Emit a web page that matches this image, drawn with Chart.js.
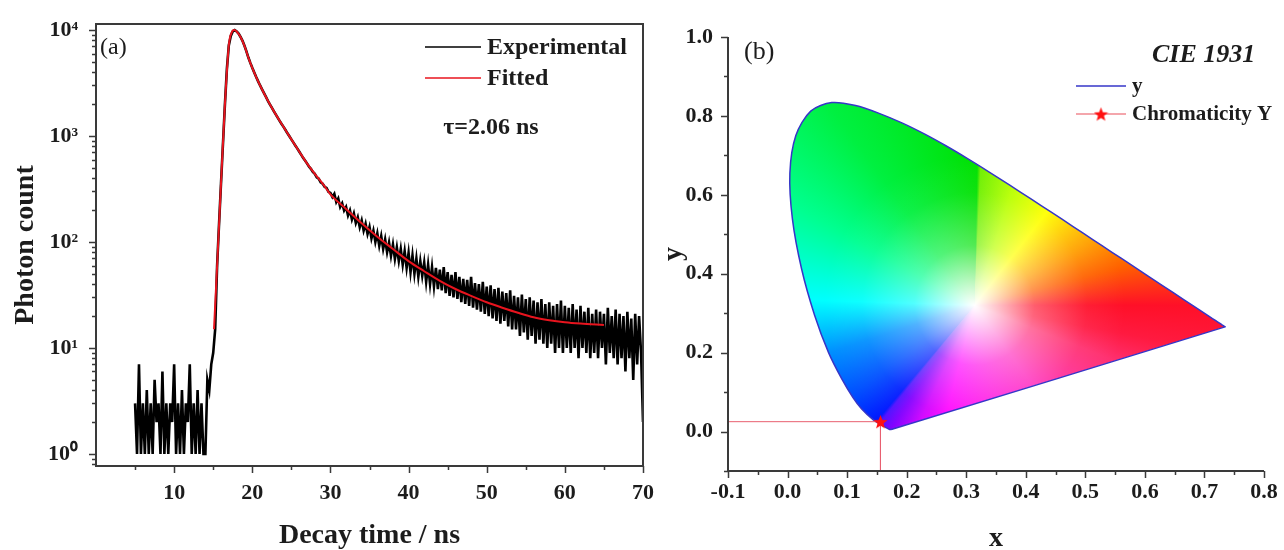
<!DOCTYPE html>
<html>
<head>
<meta charset="utf-8">
<script src="https://cdn.jsdelivr.net/npm/chart.js@4.4.0/dist/chart.umd.min.js"></script>
<style>
  html, body { margin: 0; padding: 0; background: #fff; }
  #wrap { position: relative; width: 1284px; height: 550px; overflow: hidden; }
  #decay { position: absolute; left: 0; top: 0; }
  #cie { position: absolute; left: 660px; top: 0; }
</style>
</head>
<body>
<div id="wrap">
  <canvas id="decay" width="660" height="550"></canvas>
  <canvas id="cie" width="624" height="550"></canvas>
</div>
<script>
// ---- panel (a): decay curve ----
// photon counts, one channel every 0.25 ns starting at 5 ns (one row per ns)
const expStart = 5;
const expStep = 0.25;
const expCounts = [
  3, 1, 7, 1,          // 5
  3, 1, 4, 1,          // 6
  3, 1, 5, 2,          // 7
  3, 1, 6, 1,          // 8
  3, 1, 3, 2,          // 9
  7, 1, 3, 1,          // 10
  4, 1, 3, 2,          // 11
  7, 1, 3, 1,          // 12
  4, 1, 3, 1,          // 13
  1, 5, 4, 7,          // 14
  9, 15, 60, 150,      // 15
  360, 850, 2000, 4300,       // 16
  7200, 8800, 9700, 10000,    // 17
  9700, 9250, 8600, 7900,     // 18
  7100, 6300, 5500, 4900,     // 19
  4400, 3980, 3600, 3280,     // 20
  3000, 2760, 2540, 2340,     // 21
  2150, 1990, 1850, 1720,     // 22
  1600, 1490, 1390, 1300,     // 23
  1220, 1140, 1060, 995,      // 24
  930, 870, 815, 765,  // 25
  715, 668, 622, 588,  // 26
  552, 516, 490, 458,  // 27
  440, 408, 396, 366,  // 28
  356, 332, 324, 298,  // 29
  290, 266, 285, 238,  // 30
  258, 214, 232, 198,  // 31
  214, 178, 199, 163,  // 32
  186, 151, 171, 138,  // 33
  160, 128, 149, 119,  // 34
  139, 108, 128, 100,  // 35
  121, 92, 114, 86,    // 36
  106, 80, 99, 74,     // 37
  95, 69, 89, 66,      // 38
  86, 61, 82, 57,      // 39
  79, 52, 75, 50,      // 40
  70, 47, 66, 48,      // 41
  64, 42, 61, 40,      // 42
  58, 38, 57, 36,      // 43
  55, 35, 58, 33,      // 44
  52, 31, 49, 30,      // 45
  52, 29, 47, 27,      // 46
  45, 26, 44, 25,      // 47
  47, 24, 41, 23,      // 48
  40, 22, 42, 21,      // 49
  38, 20, 39, 19,      // 50
  36, 18, 37, 17,      // 51
  34, 18, 33, 16,      // 52
  35, 15, 31, 15,      // 53
  30, 13, 32, 14,      // 54
  29, 12, 30, 13,      // 55
  28, 11, 27, 12,      // 56
  29, 11, 26, 10,      // 57
  27, 11, 25, 9,       // 58
  26, 10, 28, 9,       // 59
  25, 10, 24, 9,       // 60
  26, 10, 23, 8,       // 61
  25, 10, 22, 9,       // 62
  24, 8, 21, 9,        // 63
  23, 8, 22, 10,       // 64
  21, 7, 24, 9,        // 65
  20, 8, 23, 7,        // 66
  21, 8, 20, 6,        // 67
  22, 8, 19, 5,        // 68
  21, 7, 20, 9,        // 69
  2                    // 70
];
const fitTime = [15.1, 15.5, 16, 16.5, 17, 17.4, 17.7, 18, 18.5, 19, 19.5, 20, 20.5, 21, 22, 23, 24, 25, 26, 27, 28,
  29, 30, 32, 34, 36, 38, 40, 42, 44, 46, 48, 50, 52, 54, 56, 58, 60, 62, 65];
const fitCounts = [15, 60, 360, 2000, 7200, 9600, 10000, 9700, 8600, 7100, 5500, 4400, 3600, 3000, 2150, 1600, 1220, 930, 715, 552, 440,
  356, 282, 205, 150, 112, 86, 66, 53, 43, 36, 31, 27, 24, 21.5, 19.5, 18.3, 17.5, 17, 16.5];
const decayTicks = [10, 20, 30, 40, 50, 60, 70];
const countTicks = [1, 10, 100, 1000, 10000];

// ---- panel (b): CIE 1931 ----
const locusX = [0.1741, 0.1714, 0.1644, 0.1566, 0.1440, 0.1241, 0.1096, 0.0913, 0.0687, 0.0454, 0.0235, 0.0082, 0.0039, 0.0139,
  0.0389, 0.0743, 0.1142, 0.1547, 0.1929, 0.2296, 0.2658, 0.3016, 0.3373, 0.3731, 0.4087, 0.4441, 0.4788, 0.5125, 0.5448,
  0.5752, 0.6029, 0.6270, 0.6658, 0.6915, 0.7079, 0.7190, 0.7260, 0.7300, 0.7334, 0.7347, 0.1741];
const locusY = [0.0050, 0.0051, 0.0109, 0.0177, 0.0297, 0.0578, 0.0868, 0.1327, 0.2007, 0.2950, 0.4127, 0.5384, 0.6548, 0.7502,
  0.8120, 0.8338, 0.8262, 0.8059, 0.7816, 0.7543, 0.7243, 0.6923, 0.6589, 0.6245, 0.5896, 0.5547, 0.5202, 0.4866, 0.4544,
  0.4242, 0.3965, 0.3725, 0.3340, 0.3083, 0.2920, 0.2809, 0.2740, 0.2700, 0.2666, 0.2653, 0.0050];
const chromaX = [0.156];
const chromaY = [0.025];
const cieXTicks = [-0.1, 0.0, 0.1, 0.2, 0.3, 0.4, 0.5, 0.6, 0.7, 0.8];
const cieYTicks = [0.0, 0.2, 0.4, 0.6, 0.8, 1.0];

const SERIF = "'Liberation Serif', 'Times New Roman', serif";
const INK = '#1c1c1c';
const AXIS = '#3a3a3a';
const SUP = ['\u2070', '\u00b9', '\u00b2', '\u00b3', '\u2074'];
const WHITE_POINT = [0.314, 0.32];
const HUE_STOPS = [
  [0.000, '#ff1028'], [0.030, '#ff1a40'], [0.060, '#ff3070'], [0.150, '#ff30c0'],
  [0.290, '#ff00ff'], [0.320, '#d000ff'], [0.345, '#8000ff'], [0.358, '#5010ff'],
  [0.362, '#0018ff'], [0.400, '#0050ff'], [0.450, '#0090ff'], [0.505, '#00ffff'],
  [0.580, '#00ff90'], [0.650, '#00f040'], [0.700, '#00e820'], [0.753, '#00e000'],
  [0.757, '#70f000'], [0.800, '#b8ff00'], [0.855, '#ffff00'], [0.920, '#ffa000'],
  [0.960, '#ff6000'], [1.000, '#ff1028']
];

function font(size, weight, style) {
  return (style || '') + ' ' + (weight || 'bold') + ' ' + size + 'px ' + SERIF;
}

function starImage(size, color) {
  const c = document.createElement('canvas');
  c.width = c.height = size;
  const g = c.getContext('2d');
  g.fillStyle = color;
  g.beginPath();
  for (let i = 0; i < 10; i++) {
    const r = i % 2 ? size * 0.21 : size * 0.5;
    const ang = -Math.PI / 2 + i * Math.PI / 5;
    g.lineTo(size / 2 + r * Math.cos(ang), size * 0.55 + r * Math.sin(ang));
  }
  g.closePath();
  g.fill();
  return c;
}
const star = starImage(15, '#ff1010');

// frame, ticks, legend for panel (a)
const decayDecor = {
  id: 'decayDecor',
  afterDraw(chart) {
    const {ctx, chartArea: a, scales: {x, y}} = chart;
    ctx.save();
    ctx.strokeStyle = AXIS;
    ctx.lineWidth = 2;
    ctx.strokeRect(a.left, a.top, a.right - a.left, a.bottom - a.top);
    ctx.lineWidth = 1.5;
    ctx.beginPath();
    for (let v = 5; v <= 70; v += 5) {
      const px = Math.round(x.getPixelForValue(v)) + 0.5;
      ctx.moveTo(px, a.bottom);
      ctx.lineTo(px, a.bottom + (v % 10 === 0 ? 7 : 4));
    }
    for (let e = -1; e <= 4; e++) {
      for (let m = 1; m <= 9; m++) {
        const v = m * Math.pow(10, e);
        if (v < y.min || v > y.max) continue;
        const py = Math.round(y.getPixelForValue(v)) + 0.5;
        ctx.moveTo(a.left, py);
        ctx.lineTo(a.left - (m === 1 ? 7 : 4), py);
      }
    }
    ctx.stroke();

    ctx.textBaseline = 'middle';
    ctx.fillStyle = INK;
    chart.data.datasets.forEach((ds, i) => {
      const ly = 47 + i * 31;
      ctx.strokeStyle = ds.borderColor;
      ctx.lineWidth = 1.5;
      ctx.beginPath();
      ctx.moveTo(425, ly);
      ctx.lineTo(481, ly);
      ctx.stroke();
      ctx.font = font(24);
      ctx.textAlign = 'left';
      ctx.fillText(ds.label, 487, ly + 1);
    });
    ctx.font = font(24);
    ctx.textAlign = 'center';
    ctx.fillText('\u03c4=2.06 ns', 491, 128);
    ctx.font = font(24, 'normal');
    ctx.textAlign = 'left';
    ctx.fillText('(a)', 100, 48);
    ctx.restore();
  }
};

new Chart(document.getElementById('decay'), {
  type: 'line',
  data: {
    datasets: [{
      label: 'Experimental',
      data: expCounts.map((c, i) => ({x: expStart + i * expStep, y: c})),
      borderColor: '#000000',
      borderWidth: 2.6,
      pointRadius: 0,
      order: 2
    }, {
      label: 'Fitted',
      data: fitTime.map((t, i) => ({x: t, y: fitCounts[i]})),
      borderColor: '#e8141e',
      borderWidth: 2,
      pointRadius: 0,
      cubicInterpolationMode: 'monotone',
      order: 1
    }]
  },
  options: {
    responsive: false,
    animation: false,
    layout: { padding: { left: 0, right: 15, top: 24, bottom: 0 } },
    plugins: { legend: { display: false }, tooltip: { enabled: false } },
    scales: {
      x: {
        type: 'linear', min: 0, max: 70,
        afterBuildTicks: s => { s.ticks = decayTicks.map(v => ({value: v})); },
        afterFit: s => { s.height = 84; },
        grid: { display: false },
        border: { display: false },
        ticks: { font: { family: SERIF, size: 22, weight: 'bold' }, color: INK, padding: 6, maxRotation: 0 },
        title: { display: true, text: 'Decay time / ns', color: INK,
          font: { family: SERIF, size: 28, weight: 'bold', lineHeight: 1 }, padding: { top: 0, bottom: 0 } }
      },
      y: {
        type: 'logarithmic', min: 0.77, max: 11400,
        afterBuildTicks: s => { s.ticks = countTicks.map(v => ({value: v})); },
        afterFit: s => { s.width = 96; },
        grid: { display: false },
        border: { display: false },
        ticks: { font: { family: SERIF, size: 22, weight: 'bold' }, color: INK, padding: 10,
          callback: v => '10' + SUP[Math.round(Math.log10(v))] },
        title: { display: true, text: 'Photon count', color: INK,
          font: { family: SERIF, size: 28, weight: 'bold', lineHeight: 1 }, padding: { top: 12, bottom: 0 } }
      }
    }
  },
  plugins: [decayDecor]
});

// colour fill of the spectral locus for panel (b)
const cieFill = {
  id: 'cieFill',
  beforeDatasetsDraw(chart) {
    const {ctx, chartArea: a, scales: {x, y}} = chart;
    const meta = chart.getDatasetMeta(0);
    const line = meta.dataset;
    const cx = x.getPixelForValue(WHITE_POINT[0]);
    const cy = y.getPixelForValue(WHITE_POINT[1]);
    ctx.save();
    ctx.beginPath();
    if (line && typeof line.path === 'function') {
      if (typeof line.updateControlPoints === 'function') line.updateControlPoints(a, 'x');
      line.path(ctx);
    } else {
      meta.data.forEach((p, i) => i ? ctx.lineTo(p.x, p.y) : ctx.moveTo(p.x, p.y));
    }
    ctx.closePath();
    ctx.clip();
    const conic = ctx.createConicGradient(0, cx, cy);
    HUE_STOPS.forEach(([o, c]) => conic.addColorStop(o, c));
    ctx.fillStyle = conic;
    ctx.fillRect(a.left, a.top, a.width, a.height);
    const glow = ctx.createRadialGradient(cx, cy, 0, cx, cy, 150);
    glow.addColorStop(0, 'rgba(255,255,255,1)');
    glow.addColorStop(0.15, 'rgba(255,255,255,0.75)');
    glow.addColorStop(0.4, 'rgba(255,255,255,0.32)');
    glow.addColorStop(0.75, 'rgba(255,255,255,0.06)');
    glow.addColorStop(1, 'rgba(255,255,255,0)');
    ctx.fillStyle = glow;
    ctx.fillRect(a.left, a.top, a.width, a.height);
    ctx.restore();
  }
};

// axes, ticks, legend for panel (b)
const cieDecor = {
  id: 'cieDecor',
  afterDraw(chart) {
    const {ctx, chartArea: a, scales: {x, y}} = chart;
    ctx.save();
    ctx.strokeStyle = AXIS;
    ctx.lineWidth = 2;
    ctx.beginPath();
    ctx.moveTo(a.left, a.top);
    ctx.lineTo(a.left, a.bottom);
    ctx.lineTo(a.right, a.bottom);
    ctx.stroke();
    ctx.lineWidth = 1.5;
    ctx.beginPath();
    for (let k = -2; k <= 16; k++) {
      const px = Math.round(x.getPixelForValue(k * 0.05)) + 0.5;
      ctx.moveTo(px, a.bottom);
      ctx.lineTo(px, a.bottom + (k % 2 === 0 ? 7 : 4));
    }
    for (let k = -1; k <= 10; k++) {
      const py = Math.round(y.getPixelForValue(k * 0.1)) + 0.5;
      ctx.moveTo(a.left, py);
      ctx.lineTo(a.left - (k % 2 === 0 ? 7 : 4), py);
    }
    ctx.stroke();

    ctx.textBaseline = 'middle';
    ctx.textAlign = 'left';
    ctx.fillStyle = INK;
    const entries = chart.data.datasets.filter(ds => ds.label);
    entries.forEach((ds, i) => {
      const ly = 86 + i * 28;
      ctx.strokeStyle = ds.legendLine || ds.borderColor;
      ctx.lineWidth = 1.5;
      ctx.beginPath();
      ctx.moveTo(416, ly);
      ctx.lineTo(466, ly);
      ctx.stroke();
      if (ds.pointStyle instanceof HTMLCanvasElement) {
        ctx.drawImage(ds.pointStyle, 441 - ds.pointStyle.width / 2, ly - ds.pointStyle.height / 2);
      }
      ctx.font = font(21);
      ctx.fillText(ds.label, 472, ly + 1);
    });
    ctx.font = font(26, 'bold', 'italic');
    ctx.fillText('CIE 1931', 492, 55);
    ctx.font = font(26, 'normal');
    ctx.fillText('(b)', 84, 52);
    ctx.restore();
  }
};

new Chart(document.getElementById('cie'), {
  type: 'line',
  data: {
    datasets: [{
      label: 'y',
      data: locusX.map((v, i) => ({x: v, y: locusY[i]})),
      borderColor: '#3636c8',
      borderWidth: 1.5,
      pointRadius: 0,
      tension: 0.3,
      fill: false,
      order: 3
    }, {
      data: [
        {x: cieXTicks[0], y: chromaY[0]},
        {x: chromaX[0], y: chromaY[0]},
        {x: chromaX[0], y: -0.1}
      ],
      borderColor: '#e86070',
      borderWidth: 1,
      pointRadius: 0,
      order: 2
    }, {
      label: 'Chromaticity Y',
      data: chromaX.map((v, i) => ({x: v, y: chromaY[i]})),
      borderColor: '#ff1010',
      legendLine: '#f08890',
      pointStyle: star,
      pointRadius: 8,
      showLine: false,
      order: 1
    }]
  },
  options: {
    responsive: false,
    animation: false,
    layout: { padding: { left: 0, right: 20, top: 37, bottom: 0 } },
    plugins: { legend: { display: false }, tooltip: { enabled: false } },
    scales: {
      x: {
        type: 'linear', min: -0.1, max: 0.8,
        afterBuildTicks: s => { s.ticks = cieXTicks.map(v => ({value: v})); },
        afterFit: s => { s.height = 79; },
        grid: { display: false },
        border: { display: false },
        ticks: { font: { family: SERIF, size: 22, weight: 'bold' }, color: INK, padding: 0, maxRotation: 0,
          callback: v => v.toFixed(1) },
        title: { display: true, text: 'x', color: INK,
          font: { family: SERIF, size: 28, weight: 'bold', lineHeight: 0.8 }, padding: { top: 0, bottom: 0 } }
      },
      y: {
        type: 'linear', min: -0.1, max: 1.0,
        afterBuildTicks: s => { s.ticks = cieYTicks.map(v => ({value: v})); },
        afterFit: s => { s.width = 68; },
        grid: { display: false },
        border: { display: false },
        ticks: { font: { family: SERIF, size: 22, weight: 'bold' }, color: INK, padding: 7,
          callback: v => v.toFixed(1) },
        title: { display: true, text: 'y', color: INK,
          font: { family: SERIF, size: 28, weight: 'bold', lineHeight: 1 }, padding: { top: 0, bottom: 0 } }
      }
    }
  },
  plugins: [cieFill, cieDecor]
});
</script>
</body>
</html>
